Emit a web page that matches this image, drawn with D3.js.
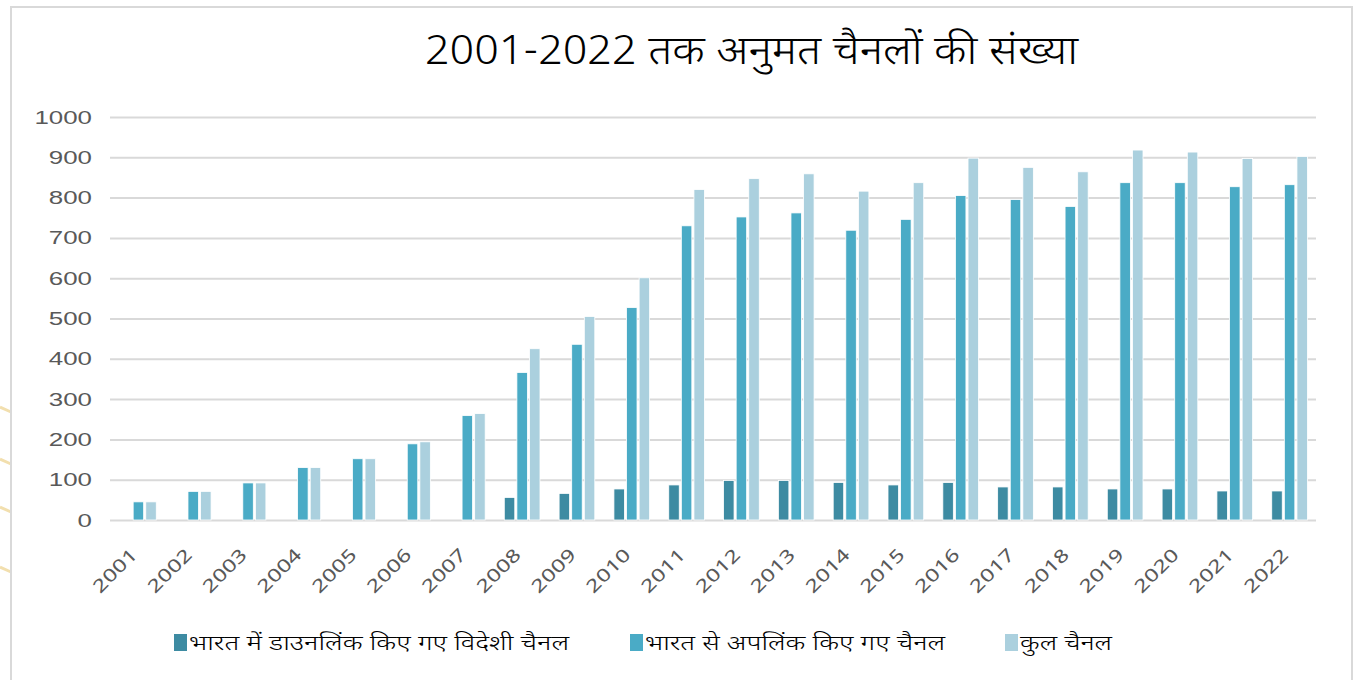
<!DOCTYPE html>
<html>
<head>
<meta charset="utf-8">
<script src="https://cdnjs.cloudflare.com/ajax/libs/d3/7.8.5/d3.min.js"></script>
<style>
  body { margin: 0; background: #ffffff; }
  svg { display: block; }
  text { font-family: "Noto Sans Devanagari", "Lohit Devanagari", "Noto Sans", "DejaVu Sans", sans-serif; }
  .tick text { font-family: "Liberation Sans", Arial, sans-serif; }
</style>
</head>
<body>
<svg width="1355" height="680"></svg>
<script>
var years = ["2001", "2002", "2003", "2004", "2005", "2006", "2007", "2008", "2009", "2010", "2011",
             "2012", "2013", "2014", "2015", "2016", "2017", "2018", "2019", "2020", "2021", "2022"];

// downlinked foreign channels (none before 2008)
var downlinked = [0, 0, 0, 0, 0, 0, 0, 56, 66, 77, 87, 98, 98, 93, 87, 93, 82, 82, 77, 77, 72, 72];
// uplinked from India
var uplinked = [45, 71, 92, 130, 152, 189, 259, 366, 436, 527, 730, 752, 762, 719, 746, 805, 795, 778, 837, 837, 827, 832];
// total
var total = [45, 71, 92, 130, 152, 194, 264, 425, 505, 601, 820, 847, 859, 816, 837, 898, 875, 864, 918, 913, 897, 902];

var yTicks = [0, 100, 200, 300, 400, 500, 600, 700, 800, 900, 1000];

var seriesNames = ["भारत में डाउनलिंक किए गए विदेशी चैनल", "भारत से अपलिंक किए गए चैनल", "कुल चैनल"];
var seriesColors = ["#3d8ba2", "#4aabc6", "#abd0de"];
var title = "2001-2022 तक अनुमत चैनलों की संख्या";

var svg = d3.select("svg");

// faint decoration left of the frame
[410, 462, 510, 570].forEach(function(y) {
    svg.append("line")
        .attr("x1", 0).attr("y1", y - 3)
        .attr("x2", 11).attr("y2", y + 2)
        .attr("stroke", "#f2dfae")
        .attr("stroke-width", 3);
});

// chart frame
svg.append("rect")
    .attr("x", 11).attr("y", 7)
    .attr("width", 1341).attr("height", 690)
    .attr("fill", "#ffffff")
    .attr("stroke", "#d9d9d9")
    .attr("stroke-width", 2);

svg.append("text")
    .attr("x", 425).attr("y", 64)
    .attr("font-size", 40)
    .attr("font-weight", 300)
    .attr("fill", "#000000")
    .attr("textLength", 653)
    .attr("lengthAdjust", "spacingAndGlyphs")
    .text(title);

var plotLeft = 110, plotRight = 1316, plotTop = 117, plotBottom = 520;

var x = d3.scaleBand()
    .domain(years)
    .range([plotLeft, plotRight]);

var y = d3.scaleLinear()
    .domain([0, 1000])
    .range([plotBottom, plotTop]);

// gridlines
svg.append("g")
    .attr("transform", "translate(" + plotLeft + ",0)")
    .call(d3.axisLeft(y).tickValues(yTicks).tickSize(-(plotRight - plotLeft)).tickFormat(""))
    .call(g => g.select(".domain").remove())
    .call(g => g.selectAll(".tick line").attr("stroke", "#d9d9d9").attr("stroke-width", 2));

// y labels
svg.append("g")
    .attr("transform", "translate(92,0)")
    .call(d3.axisLeft(y).tickValues(yTicks).tickSize(0).tickPadding(0).tickFormat(d3.format("d")))
    .call(g => g.select(".domain").remove())
    .call(g => g.selectAll(".tick text")
        .attr("font-size", 19)
        .attr("fill", "#595959")
        .attr("textLength", d => String(d).length * 14.4)
        .attr("lengthAdjust", "spacingAndGlyphs"));

// x labels
svg.append("g")
    .selectAll("text")
    .data(years)
    .join("text")
    .attr("transform", d => "translate(" + (x(d) + x.bandwidth() / 2 + 1) + ",556) rotate(-45)")
    .attr("text-anchor", "end")
    .attr("font-family", "Liberation Sans, Arial, sans-serif")
    .attr("font-size", 18)
    .attr("fill", "#595959")
    .attr("textLength", 54)
    .attr("lengthAdjust", "spacingAndGlyphs")
    .text(d => d);

var series = [downlinked, uplinked, total];
var barW = 10.5, step = 12.6;

series.forEach(function(values, s) {
    var rows = values.map((v, i) => ({year: years[i], value: v}))
        .filter(d => d.value > 0);
    svg.append("g")
        .selectAll("rect")
        .data(rows)
        .join("rect")
        .attr("x", d => x(d.year) + x.bandwidth() / 2 + (s - 1) * step - barW / 2 + 1)
        .attr("width", barW)
        .attr("y", d => y(d.value))
        .attr("height", d => y(0) - y(d.value))
        .attr("fill", seriesColors[s])
        .attr("stroke", "#ffffff")
        .attr("stroke-width", 0.8);
});

// legend
var legendX = [174, 630, 1005];
var legendW = [380, 300, 92];
var legend = svg.append("g")
    .selectAll("g")
    .data(seriesNames)
    .join("g")
    .attr("transform", (d, i) => "translate(" + legendX[i] + ",634)");

legend.append("rect")
    .attr("width", 13).attr("height", 17)
    .attr("fill", (d, i) => seriesColors[i]);

legend.append("text")
    .attr("x", 15).attr("y", 16)
    .attr("font-size", 21)
    .attr("font-weight", 300)
    .attr("fill", "#000000")
    .attr("textLength", (d, i) => legendW[i])
    .attr("lengthAdjust", "spacingAndGlyphs")
    .text(d => d);
</script>
</body>
</html>
